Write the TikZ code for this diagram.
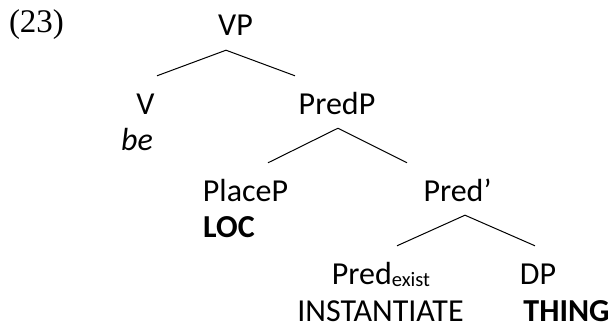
\documentclass[tikz,border=0pt]{standalone}
\usepackage{fontspec}
\setmainfont{Carlito}
\newfontfamily\exnumfont{Liberation Serif}

\begin{document}
\begin{tikzpicture}[x=1pt, y=-1pt,
    label/.style={font=\fontsize{32}{38}\selectfont, anchor=base,
      inner xsep=0pt, inner ysep=14pt, text height=24pt, text depth=0pt},
    gloss/.style={font=\fontsize{32}{38}\selectfont, anchor=base, inner sep=0pt},
    branch/.style={line width=1pt}]
  \useasboundingbox (0,0) rectangle (611,329);

  \node[gloss, font=\exnumfont\fontsize{33}{38}\selectfont] (num) at (36.5,33) {(23)};

  \node[label] (vp) at (235.5,36) {VP};
  \node[label] (v) at (145.5,114) {V};
  \node[gloss] (be) at (137,150) {\itshape be};
  \node[label] (predp) at (337,114) {PredP};
  \node[label] (placep) at (245.5,201) {PlaceP};
  \node[gloss] (loc) at (229,237) {\bfseries LOC};
  \node[label] (predbar) at (457.5,201) {Pred’};
  \node[label] (predex) at (381,284) {Pred\raisebox{-2pt}{\fontsize{20.5}{22}\selectfont exist}};
  \node[gloss] (inst) at (380.5,321) {INSTANTIATE};
  \node[label] (dp) at (538,284) {DP};
  \node[gloss] (thing) at (566.5,321) {\bfseries THING};

  \draw[branch] ([xshift=-9.5pt]vp.south) -- ([xshift=11.5pt]v.north);
  \draw[branch] ([xshift=-9.5pt]vp.south) -- ([xshift=-42pt]predp.north);
  \draw[branch] ([xshift=1pt]predp.south) -- ([xshift=22.5pt]placep.north);
  \draw[branch] ([xshift=1pt]predp.south) -- ([xshift=-50.5pt]predbar.north);
  \draw[branch] ([xshift=7.5pt]predbar.south) -- ([xshift=16pt]predex.north);
  \draw[branch] ([xshift=7.5pt]predbar.south) -- ([xshift=-3pt]dp.north);
\end{tikzpicture}
\end{document}
